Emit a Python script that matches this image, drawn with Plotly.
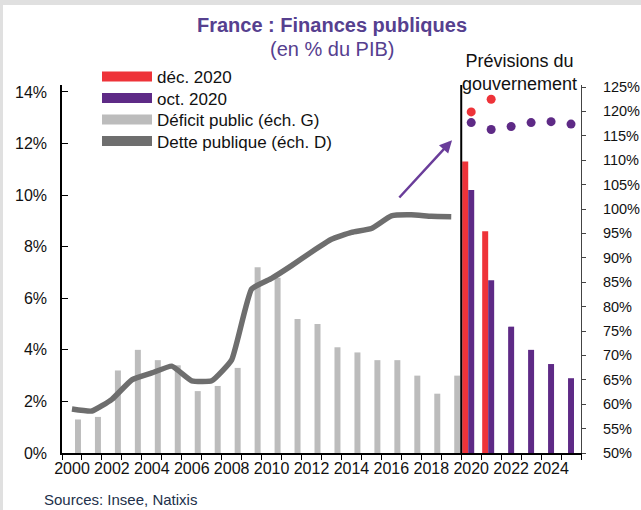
import plotly.graph_objects as go

# ---------------- data ----------------
years_hist = list(range(2000, 2020))
deficit_hist = [1.3, 1.4, 3.2, 4.0, 3.6, 3.4, 2.4, 2.6, 3.3, 7.2, 6.8, 5.2, 5.0, 4.1, 3.9, 3.6, 3.6, 3.0, 2.3, 3.0]
debt_hist = [59.0, 58.6, 61.0, 65.0, 66.4, 67.8, 64.8, 64.8, 69.1, 83.6, 85.8, 88.4, 91.2, 93.8, 95.2, 96.0, 98.6, 98.8, 98.5, 98.4]

years_dec = [2020, 2021]
deficit_dec = [11.3, 8.6]
debt_dec = [119.9, 122.5]

years_oct = [2020, 2021, 2022, 2023, 2024, 2025]
deficit_oct = [10.2, 6.7, 4.9, 4.0, 3.45, 2.9]
debt_oct = [117.7, 116.3, 116.9, 117.7, 117.9, 117.4]

year_ticks = list(range(2000, 2025, 2))
left_ticks = list(range(0, 15, 2))
right_ticks = list(range(50, 126, 5))

legend_names = ["déc. 2020", "oct. 2020", "Déficit public (éch. G)", "Dette publique (éch. D)"]

# ---------------- style ----------------
RED = "#ee3339"
PURPLE = "#5e2a86"
GRAY = "#bcbcbc"
DARK = "#6e6e6e"
TITLE = "#56408f"
BAND = "#e0e0e0"
FONT = "Liberation Sans, Arial, sans-serif"

fig = go.Figure()

# bars (left axis)
fig.add_trace(go.Bar(x=years_hist, y=deficit_hist, width=0.3, offset=0.15,
                     marker=dict(color=GRAY, line=dict(width=0)), showlegend=False,
                     name=legend_names[2]))
fig.add_trace(go.Bar(x=years_dec, y=deficit_dec, width=0.3, offset=-0.45,
                     marker=dict(color=RED, line=dict(width=0)), showlegend=False,
                     name=legend_names[0]))
fig.add_trace(go.Bar(x=years_oct, y=deficit_oct, width=0.3, offset=-0.15,
                     marker=dict(color=PURPLE, line=dict(width=0)), showlegend=False,
                     name=legend_names[1]))

# debt (right axis)
fig.add_trace(go.Scatter(x=years_hist, y=debt_hist, yaxis="y2", mode="lines",
                         line=dict(color=DARK, width=5.5, shape="spline", smoothing=0.4),
                         showlegend=False, name=legend_names[3]))
fig.add_trace(go.Scatter(x=years_dec, y=debt_dec, yaxis="y2", mode="markers",
                         marker=dict(color=RED, size=9), showlegend=False, name=legend_names[0]))
fig.add_trace(go.Scatter(x=years_oct, y=debt_oct, yaxis="y2", mode="markers",
                         marker=dict(color=PURPLE, size=9), showlegend=False, name=legend_names[1]))

# legend entries (one legend box per entry to reproduce the tight spacing)
legend_ids = ["legend", "legend2", "legend3", "legend4"]
for name, col, lid in zip(legend_names, [RED, PURPLE, GRAY, DARK], legend_ids):
    fig.add_trace(go.Scatter(x=[None], y=[None], mode="lines",
                             line=dict(color=col, width=10), name=name,
                             showlegend=True, legend=lid))

W, H = 641, 510
L, R, T, B = 62, 60, 85, 57
pw, ph = W - L - R, H - T - B


def px_x(p):
    return (p - L) / pw


def px_y(p):
    return (H - B - p) / ph


legend_rows = [77, 98.5, 120, 141.5]
legend_layout = {}
for lid, row in zip(legend_ids, legend_rows):
    legend_layout[lid] = dict(x=px_x(97), y=px_y(row), xanchor="left", yanchor="middle",
                              bgcolor="rgba(0,0,0,0)",
                              font=dict(size=17, color="#111111", family=FONT),
                              itemwidth=50)

fig.update_layout(
    width=W, height=H,
    margin=dict(l=L, r=R, t=T, b=B, autoexpand=False),
    paper_bgcolor="white",
    plot_bgcolor="white",
    barmode="overlay",
    font=dict(family=FONT, color="#111111"),
    title=dict(text="<b>France : Finances publiques</b>", x=px_x(332), xref="paper",
               xanchor="center", y=1 - 25 / H, yanchor="middle",
               font=dict(size=20, color=TITLE, family=FONT)),
    xaxis=dict(range=[1999.5, 2025.5], tickmode="array", tickvals=year_ticks,
               ticktext=[str(y) for y in year_ticks],
               ticks="", showline=True, linecolor="black", linewidth=1.5,
               showgrid=False, zeroline=False, tickfont=dict(size=16, color="#111111"),
               minor=dict(tickmode="linear", tick0=1999.5, dtick=1, ticks="outside",
                          ticklen=5, tickcolor="black", showgrid=False)),
    yaxis=dict(range=[0, 14.27], tickmode="array", tickvals=left_ticks,
               ticktext=[f"{v}%" for v in left_ticks],
               showline=True, linecolor="black", linewidth=1.5, ticks="inside",
               ticklen=6, tickcolor="black", showgrid=False, zeroline=False,
               tickfont=dict(size=16, color="#111111"), ticklabelstandoff=10),
    yaxis2=dict(range=[50, 125.41], overlaying="y", side="right", tickmode="array",
                tickvals=right_ticks, ticktext=[f"{v}%" for v in right_ticks],
                showline=True, linecolor="#444444",
                linewidth=1, ticks="outside", ticklen=4, tickcolor="#444444",
                showgrid=False, zeroline=False, tickfont=dict(size=14.5, color="#111111"),
                ticklabelstandoff=14),
    shapes=[
        dict(type="rect", xref="paper", yref="paper", layer="below",
             x0=px_x(-2), x1=px_x(W + 2), y0=px_y(5), y1=px_y(-2),
             fillcolor=BAND, line=dict(width=0)),
        dict(type="rect", xref="paper", yref="paper", layer="below",
             x0=px_x(-2), x1=px_x(3), y0=px_y(H + 2), y1=px_y(-2),
             fillcolor=BAND, line=dict(width=0)),
        dict(type="line", xref="x", yref="paper", x0=2019.5, x1=2019.5, y0=0, y1=1,
             line=dict(color="black", width=2)),
    ],
    annotations=[
        dict(text="(en % du PIB)", xref="paper", yref="paper", x=px_x(332), y=px_y(49),
             xanchor="center", yanchor="middle", showarrow=False,
             font=dict(size=20, color=TITLE, family=FONT)),
        dict(text="Prévisions du<br>gouvernement", xref="paper", yref="paper",
             x=px_x(519), y=px_y(72.5), xanchor="center", yanchor="middle",
             showarrow=False, font=dict(size=18, color="#111111", family=FONT)),
        dict(text="Sources: Insee, Natixis", xref="paper", yref="paper",
             x=px_x(42), y=px_y(499), xanchor="left", yanchor="middle", showarrow=False,
             font=dict(size=15, color="#22304a", family=FONT)),
        dict(text="", xref="x", yref="y2", x=2019.04, y=114.1,
             axref="x", ayref="y2", ax=2016.33, ay=102.05, showarrow=True,
             arrowhead=2, arrowsize=1, arrowwidth=2.5, arrowcolor="#6a3d9a"),
    ],
    **legend_layout,
)

fig.write_html("out.html", config={"displayModeBar": False},
               post_script="document.body.style.margin='0';")
